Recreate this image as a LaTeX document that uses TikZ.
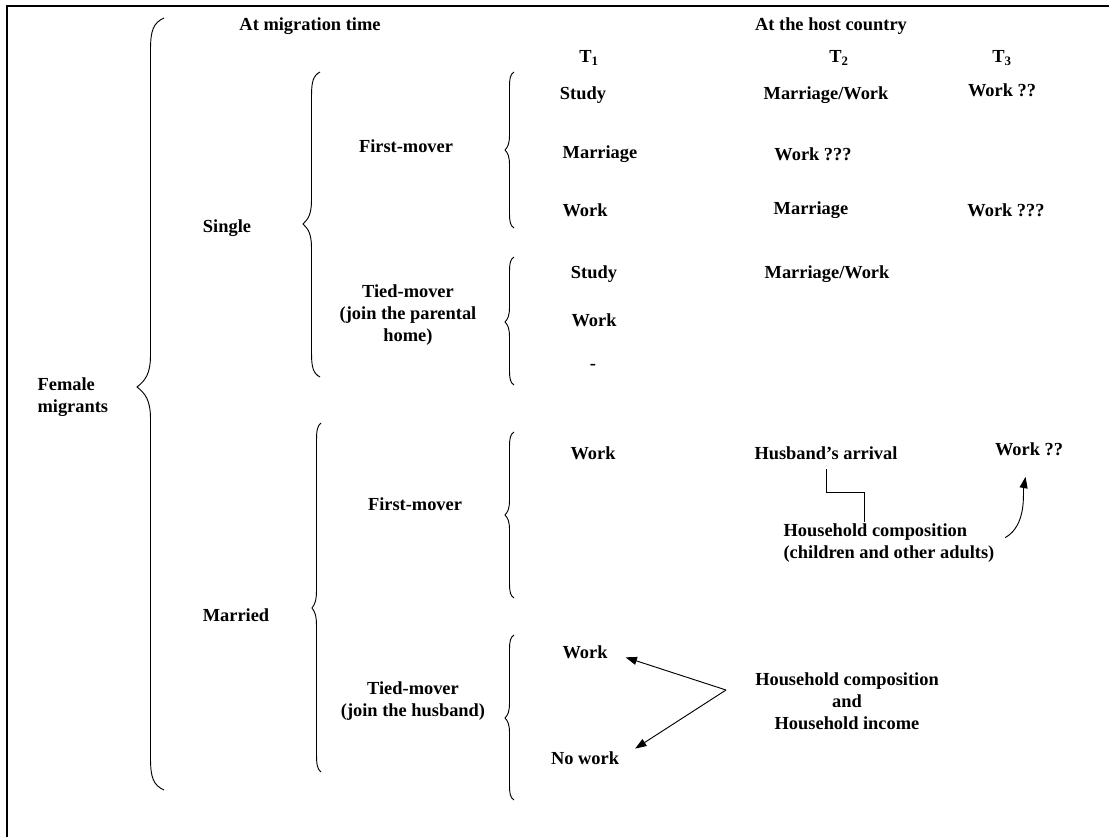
\documentclass[tikz,border=0pt]{standalone}
\usepackage{fontspec}
\setmainfont{Liberation Serif}
\usetikzlibrary{arrows.meta}
% x, top, tip, bottom, amplitude, curl length
\newcommand{\wbrace}[6]{%
	\draw[line width=0.7pt] (#1,#2) .. controls +(-0.4*#5,0.15*#6) and +(0,-0.6*#6) .. (#1-0.5*#5,#2+#6)
		-- (#1-0.5*#5,#3-#6) .. controls +(0,0.6*#6) and +(0.3*#5,-0.2*#6) .. (#1-#5,#3)
		.. controls +(0.3*#5,0.2*#6) and +(0,-0.6*#6) .. (#1-0.5*#5,#3+#6)
		-- (#1-0.5*#5,#4-#6) .. controls +(0,0.6*#6) and +(-0.4*#5,-0.15*#6) .. (#1,#4);}

\begin{document}
\begin{tikzpicture}[x=0.75pt, y=-0.75pt, >={Triangle[length=8.5pt, width=6pt]}]
	\useasboundingbox (0,0) rectangle (1109,837);
	\tikzstyle{every node}=[align=center, inner sep=1pt, font=\bfseries\fontsize{13.8}{16.5}\selectfont]
	\draw[line width=1.7pt] (7,837) -- (7,6) -- (1109,6);

	\node (mig) at (310, 26) {At migration time};
	\node (host) at (831, 26) {At the host country};
	\node (t1) at (589, 58) {T\textsubscript{1}};
	\node (t2) at (839, 58) {T\textsubscript{2}};
	\node (t3) at (1002, 58) {T\textsubscript{3}};

	\node[anchor=west, align=left] (female) at (36, 397) {Female\\migrants};
	\node (single) at (227, 228) {Single};
	\node (married) at (236, 615) {Married};
	\node (sfirst) at (406, 146) {First-mover};
	\node (stied) at (408, 315) {Tied-mover\\(join the parental\\home)};
	\node (mfirst) at (415, 504) {First-mover};
	\node (mtied) at (413, 701) {Tied-mover\\(join the husband)};

	\wbrace{164}{18}{387}{790}{27}{32}
	\wbrace{320}{72}{224}{377}{17}{24}
	\wbrace{321}{423}{608}{772}{9}{18}
	\wbrace{514}{72}{150}{228}{9}{15}
	\wbrace{514}{257}{322}{385}{9}{15}
	\wbrace{514}{432}{515}{598}{9}{15}
	\wbrace{514}{635}{718}{800}{9}{15}

	% single, first-mover
	\node (study1) at (583, 95) {Study};
	\node (mw1) at (826, 95) {Marriage/Work};
	\node (wq1) at (1002, 90) {Work ??};
	\node (marr1) at (600, 154) {Marriage};
	\node (wqq1) at (813, 154) {Work ???};
	\node (work1) at (585, 210) {Work};
	\node (marr2) at (811, 210) {Marriage};
	\node (wqq2) at (1006, 210) {Work ???};
	% single, tied-mover
	\node (study2) at (594, 274) {Study};
	\node (mw2) at (827, 274) {Marriage/Work};
	\node (work2) at (594, 320) {Work};
	\node (none) at (593, 367) {-};
	% married, first-mover
	\node (work3) at (593, 453) {Work};
	\node (arrival) at (826, 453) {Husband’s arrival};
	\node (wq2) at (1029, 449) {Work ??};
	\node[anchor=west, align=left] (hhcomp) at (782, 543) {Household composition\\(children and other adults)};
	\coordinate (elbow) at (864, 492);
	\draw[line width=0.7pt, shorten <=6pt] (arrival.south) |- (elbow) -- (elbow |- hhcomp.north);
	\draw[->, line width=0.7pt, shorten <=8pt, shorten >=15pt] (hhcomp.east) to[out=30, in=-100] (wq2.south);
	% married, tied-mover
	\node (work4) at (585, 652) {Work};
	\node (nowork) at (585, 758) {No work};
	\node (hhinc) at (847, 701) {Household composition\\and\\Household income};
	\coordinate (hub) at (726, 690);
	\draw[->, line width=0.7pt, shorten >=13pt] (hub) -- (work4.east);
	\draw[->, line width=0.7pt, shorten >=13pt] (hub) -- (nowork.east);
\end{tikzpicture}
\end{document}
